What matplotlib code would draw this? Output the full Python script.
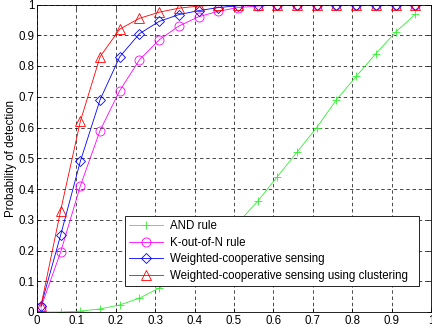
import matplotlib
matplotlib.use("Agg")
import matplotlib.pyplot as plt

# false-alarm probability (x) shared by every curve
pf = [0.01, 0.06, 0.11, 0.16, 0.21, 0.26, 0.31, 0.36, 0.41, 0.46,
      0.51, 0.56, 0.61, 0.66, 0.71, 0.76, 0.81, 0.86, 0.91, 0.96]

pd_and = [0.0, 0.0, 0.003, 0.01, 0.023, 0.045, 0.078, 0.115, 0.165, 0.225,
          0.29, 0.36, 0.44, 0.52, 0.60, 0.69, 0.766, 0.84, 0.91, 0.968]
pd_kn = [0.015, 0.195, 0.41, 0.59, 0.72, 0.82, 0.885, 0.93, 0.96, 0.978,
         0.99, 0.995, 0.998, 1.0, 1.0, 1.0, 1.0, 1.0, 1.0, 1.0]
pd_wcs = [0.02, 0.25, 0.49, 0.69, 0.83, 0.905, 0.945, 0.967, 0.98, 0.99,
          0.996, 0.998, 1.0, 1.0, 1.0, 1.0, 1.0, 1.0, 1.0, 1.0]
pd_clu = [0.02, 0.33, 0.62, 0.83, 0.92, 0.955, 0.975, 0.988, 0.995, 0.998,
          1.0, 1.0, 1.0, 1.0, 1.0, 1.0, 1.0, 1.0, 1.0, 1.0]

labels = ["AND rule", "K-out-of-N rule", "Weighted-cooperative sensing",
          "Weighted-cooperative sensing using clustering"]

x_ticks = [0, 0.1, 0.2, 0.3, 0.4, 0.5, 0.6, 0.7, 0.8, 0.9, 1]
y_ticks = [0, 0.1, 0.2, 0.3, 0.4, 0.5, 0.6, 0.7, 0.8, 0.9, 1]

plt.rcParams["font.family"] = ["Liberation Sans", "DejaVu Sans"]
plt.rcParams["font.size"] = 8.3

fig = plt.figure(figsize=(4.32, 3.27), dpi=100, facecolor="white")
ax = fig.add_axes([37 / 432, 1 - 312 / 327, 394 / 432, 307.5 / 327])

style = dict(linewidth=0.6, markersize=6.5, markerfacecolor="none",
             markeredgewidth=0.6)
ax.plot(pf, pd_and, color="#33ee33", marker="+", label=labels[0],
        **{**style, "markersize": 5.5})
ax.plot(pf, pd_kn, color="#ff00ff", marker="o", label=labels[1], **style)
ax.plot(pf, pd_wcs, color="#0000ff", marker="D", label=labels[2],
        **{**style, "markersize": 5.5})
ax.plot(pf, pd_clu, color="#ff0000", marker="^", label=labels[3],
        **{**style, "markersize": 7})

ax.set_xlim(0, 1)
ax.set_ylim(0, 1)
ax.set_xticks(x_ticks)
ax.set_yticks(y_ticks)
ax.set_xticklabels([f"{t:g}" for t in x_ticks])
ax.set_yticklabels([f"{t:g}" for t in y_ticks])
ax.tick_params(direction="in", length=3, width=0.5, top=True, right=True,
               pad=2)
for s in ax.spines.values():
    s.set_linewidth(0.6)
ax.grid(True, color="black", linestyle=(0, (5, 4)), linewidth=0.5)
ax.set_ylabel("Probability of detection", labelpad=1)

leg = ax.legend(loc="lower left", bbox_to_anchor=(0.223, 0.085, 0.747, 0.234),
                mode="expand", fancybox=False, framealpha=1,
                edgecolor="black", borderpad=0.35, labelspacing=0.4,
                handlelength=3.0, handletextpad=0.55, borderaxespad=0)
leg.get_frame().set_linewidth(0.6)

fig.savefig("out.png", dpi=100, facecolor="white")
